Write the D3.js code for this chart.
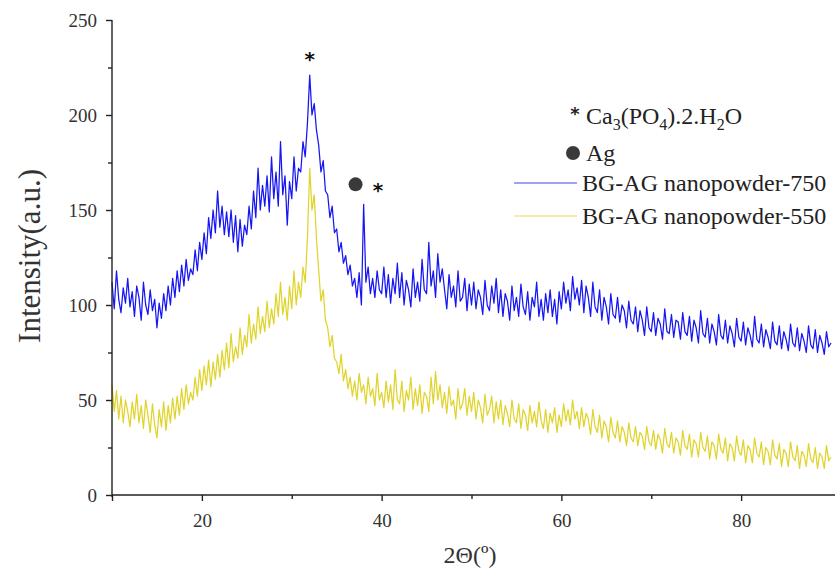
<!DOCTYPE html>
<html>
<head>
<meta charset="utf-8">
<script src="https://cdn.jsdelivr.net/npm/d3@7"></script>
<style>
  html, body { margin: 0; padding: 0; background: #fff; }
  svg { display: block; }
  text { font-family: "Liberation Serif", "Times New Roman", serif; }
</style>
</head>
<body>
<svg id="chart" width="835" height="574"></svg>
<script>
// 2θ scan grid: 10° to 90° in 0.25° steps
const thetaStart = 10;
const thetaStep = 0.25;

// BG-AG nanopowder calcined at 750 °C (counts, a.u.)
const bg750 = [
  112, 98, 118, 103,  96, 109, 101, 114,  99, 107, 94, 110,  104, 92, 112, 100,
  95, 108, 97, 103,  88, 101, 93, 106,  97, 110, 100, 114,  104, 118, 107, 121,
  110, 124, 113, 119,  116, 129, 118, 133,  124, 138, 127, 146,  135, 150, 138, 160,
  141, 152, 137, 149,  136, 150, 133, 147,  128, 145, 131, 142,  137, 152, 140, 160,
  146, 172, 150, 163,  152, 168, 149, 178,  156, 170, 152, 186,  158, 168, 142, 165,
  156, 178, 160, 172,  170, 186, 178, 196,  221, 200, 206, 192,  184, 170, 176, 160,
  158, 146, 152, 138,  140, 128, 133, 122,  126, 116, 121, 110,  114, 104, 117, 100,
  153, 112, 120, 106,  114, 104, 118, 108,  106, 120, 104, 116,  101, 114, 106, 122,
  104, 117, 100, 113,  108, 99, 119, 104,  112, 102, 124, 108,  106, 133, 110, 118,
  104, 127, 112, 119,  108, 98, 116, 104,  110, 99, 118, 102,  104, 114, 97, 111,
  100, 112, 98, 108,  104, 95, 113, 100,  97, 110, 101, 114,  96, 108, 94, 106,
  102, 92, 110, 97,  104, 94, 111, 99,  95, 107, 92, 104,  99, 112, 94, 103,
  92, 106, 96, 108,  94, 103, 90, 107,  98, 112, 101, 108,  97, 115, 103, 109,
  100, 113, 96, 110,  104, 94, 112, 99,  96, 108, 92, 104,  99, 90, 106, 95,
  93, 104, 91, 100,  97, 88, 102, 92,  90, 99, 86, 97,  92, 84, 99, 88,
  86, 96, 84, 93,  90, 82, 98, 86,  85, 95, 83, 92,  91, 82, 96, 86,
  84, 94, 81, 92,  88, 80, 97, 85,  83, 93, 80, 90,  86, 79, 95, 84,
  82, 92, 80, 89,  85, 78, 93, 83,  81, 91, 79, 88,  84, 78, 94, 82,
  80, 90, 78, 87,  83, 77, 91, 81,  79, 89, 77, 86,  82, 76, 90, 80,
  78, 88, 76, 85,  81, 75, 89, 79,  77, 87, 75, 84,  80, 74, 86, 78,
  80
];

// BG-AG nanopowder calcined at 550 °C (counts, a.u.)
const bg550 = [
  58, 44, 55, 40,  52, 38, 50, 44,  36, 49, 40, 53,  38, 47, 35, 50,
  42, 33, 48, 37,  30, 45, 36, 49,  34, 47, 38, 51,  40, 52, 42, 56,
  45, 58, 48, 54,  50, 62, 52, 66,  55, 68, 58, 71,  57, 70, 61, 74,
  62, 76, 66, 80,  67, 85, 70, 78,  72, 88, 74, 84,  78, 95, 80, 90,
  82, 99, 85, 94,  86, 102, 88, 98,  90, 106, 94, 112,  95, 104, 92, 110,
  98, 118, 100, 112,  104, 120, 112, 136,  172, 150, 158, 135,  118, 102, 108, 92,
  88, 78, 84, 72,  70, 64, 74, 60,  66, 56, 62, 52,  60, 50, 64, 54,
  58, 48, 62, 52,  56, 47, 64, 50,  54, 46, 60, 49,  58, 45, 66, 50,
  48, 60, 44, 55,  50, 62, 45, 56,  47, 58, 43, 54,  52, 44, 62, 48,
  65, 50, 58, 46,  54, 43, 57, 47,  50, 40, 56, 45,  48, 56, 42, 52,
  44, 54, 40, 50,  46, 38, 53, 42,  45, 52, 38, 49,  40, 50, 37, 47,
  43, 36, 50, 40,  38, 48, 35, 45,  42, 34, 47, 38,  44, 36, 49, 39,
  35, 45, 33, 43,  38, 46, 33, 42,  36, 48, 39, 45,  37, 50, 40, 44,
  35, 46, 36, 43,  40, 32, 45, 36,  33, 42, 30, 39,  36, 28, 41, 33,
  30, 39, 28, 36,  33, 26, 38, 30,  28, 36, 26, 33,  31, 24, 36, 28,
  26, 34, 24, 32,  29, 22, 35, 27,  25, 33, 22, 30,  28, 21, 34, 26,
  24, 32, 20, 29,  27, 20, 33, 25,  23, 31, 19, 28,  26, 19, 32, 24,
  22, 30, 18, 27,  25, 18, 31, 23,  21, 29, 17, 26,  24, 17, 30, 22,
  20, 28, 16, 25,  23, 16, 29, 21,  19, 27, 15, 24,  22, 15, 28, 20,
  18, 26, 14, 23,  21, 15, 27, 19,  17, 25, 14, 22,  20, 14, 26, 18,
  20
];

const xTicks = [10, 20, 40, 60, 80];
const xTickLabels = ["", "20", "40", "60", "80"];
const xMinorTicks = [30, 50, 70];
const yTicks = [0, 50, 100, 150, 200, 250];
const yMinorTicks = [25, 75, 125, 175, 225];

const seriesNames = ["BG-AG nanopowder-750", "BG-AG nanopowder-550"];
const seriesColors = ["#1616f4", "#e0d42c"];

// phase markers: [2θ, intensity]
const phosphatePeaks = [[32.0, 226], [39.6, 157]];
const silverPeaks = [[37.1, 163.5]];

const svg = d3.select("#chart");

const x = d3.scaleLinear().domain([10, 90]).range([112, 831]);
const y = d3.scaleLinear().domain([0, 250]).range([495, 20]);

const toPoints = vals => vals.map((v, i) => [thetaStart + i * thetaStep, v]);

const line = d3.line().x(d => x(d[0])).y(d => y(d[1]));

const plot = svg.append("g");
// 550 first so the 750 trace sits on top
[[bg550, seriesColors[1]], [bg750, seriesColors[0]]].forEach(([vals, col]) => {
  plot.append("path")
    .datum(toPoints(vals))
    .attr("fill", "none")
    .attr("stroke", col)
    .attr("stroke-width", 1.25)
    .attr("stroke-linejoin", "round")
    .attr("d", line);
});

// axes
const axisColor = "#222";
const xAxis = svg.append("g").attr("transform", `translate(0,${y(0)})`)
  .call(d3.axisBottom(x).tickValues(xTicks).tickFormat((d, i) => xTickLabels[i]).tickSize(6).tickPadding(13));
xAxis.append("g").call(d3.axisBottom(x).tickValues(xMinorTicks).tickFormat("").tickSize(4))
  .select(".domain").remove();
xAxis.select(".domain").attr("d", `M${x(10)},0H835`);

const yAxis = svg.append("g").attr("transform", `translate(${x(10)},0)`)
  .call(d3.axisLeft(y).tickValues(yTicks).tickSize(6).tickPadding(9));
yAxis.append("g").call(d3.axisLeft(y).tickValues(yMinorTicks).tickFormat("").tickSize(4))
  .select(".domain").remove();
yAxis.select(".domain").attr("d", `M0,${y(250)}V${y(0) + 2}`);

svg.selectAll(".domain, .tick line").attr("stroke", axisColor).attr("stroke-width", 1.4);
svg.selectAll(".tick text")
  .attr("fill", "#333")
  .style("font-family", "'Liberation Serif', serif")
  .style("font-size", "19px");

// axis titles
svg.append("text")
  .attr("x", 470).attr("y", 563)
  .attr("text-anchor", "middle")
  .attr("fill", "#333")
  .style("font-size", "24px")
  .text("2Θ(º)");

svg.append("text")
  .attr("transform", `translate(40,256) rotate(-90)`)
  .attr("text-anchor", "middle")
  .attr("fill", "#333")
  .style("font-size", "31px")
  .text("Intensity(a.u.)");

// peak markers
svg.selectAll(".star").data(phosphatePeaks).enter().append("text")
  .attr("class", "star")
  .attr("x", d => x(d[0]))
  .attr("y", d => y(d[1]))
  .attr("text-anchor", "middle")
  .attr("fill", "#111")
  .style("font-family", "'DejaVu Sans', sans-serif")
  .style("font-weight", "bold")
  .style("font-size", "20px")
  .text("*");

svg.selectAll(".ag").data(silverPeaks).enter().append("circle")
  .attr("class", "ag")
  .attr("cx", d => x(d[0]))
  .attr("cy", d => y(d[1]))
  .attr("r", 7)
  .attr("fill", "#3a3a3a");

// legend
const legend = svg.append("g").attr("fill", "#222").style("font-size", "24px");
legend.append("text").attr("x", 575).attr("y", 120)
  .attr("text-anchor", "middle")
  .style("font-family", "'DejaVu Sans', sans-serif")
  .style("font-weight", "bold").style("font-size", "18px").text("*");
const ca = legend.append("text").attr("x", 586).attr("y", 124);
ca.append("tspan").text("Ca");
ca.append("tspan").attr("dy", 6).style("font-size", "16px").text("3");
ca.append("tspan").attr("dy", -6).text("(PO");
ca.append("tspan").attr("dy", 6).style("font-size", "16px").text("4");
ca.append("tspan").attr("dy", -6).text(").2.H");
ca.append("tspan").attr("dy", 6).style("font-size", "16px").text("2");
ca.append("tspan").attr("dy", -6).text("O");

legend.append("circle").attr("cx", 573).attr("cy", 153).attr("r", 7).attr("fill", "#3a3a3a");
legend.append("text").attr("x", 586).attr("y", 161).text("Ag");

seriesNames.forEach((name, i) => {
  const cy = 183 + i * 33;
  legend.append("line")
    .attr("x1", 514).attr("x2", 577)
    .attr("y1", cy).attr("y2", cy)
    .attr("stroke", seriesColors[i]).attr("stroke-width", 1.1).attr("opacity", 0.8);
  legend.append("text").attr("x", 582).attr("y", cy + 8).text(name);
});
</script>
</body>
</html>
